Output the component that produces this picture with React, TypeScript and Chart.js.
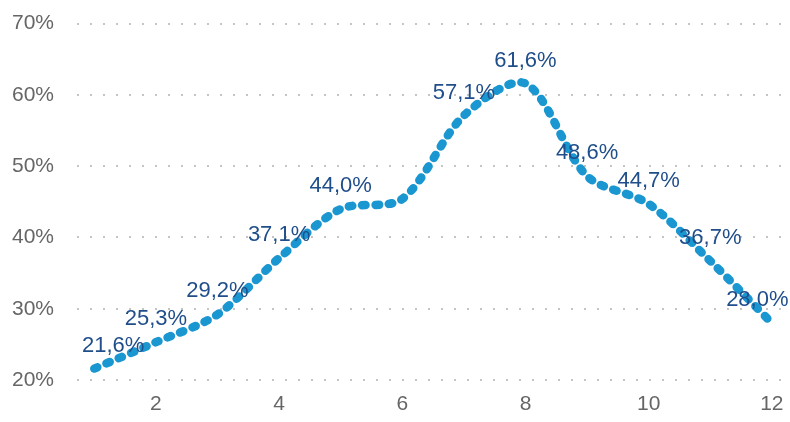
import React, { useEffect, useRef } from "react";
import { Chart, registerables } from "chart.js";

Chart.register(...registerables);

const xValues = [1, 2, 3, 4, 5, 6, 7, 8, 9, 10, 11, 12];
const shares = [21.6, 25.3, 29.2, 37.1, 44.0, 45.4, 57.1, 61.6, 48.6, 44.7, 36.7, 28.0];
const showLabel = [true, true, true, true, true, false, true, true, true, true, true, true];
const xTicks = [2, 4, 6, 8, 10, 12];
const yTicks = [20, 30, 40, 50, 60, 70];

const fmt = (v: number) => v.toFixed(1).replace(".", ",") + "%";

const labelPlugin = {
  id: "pointLabels",
  afterDatasetsDraw(chart: any) {
    const ctx = chart.ctx;
    const meta = chart.getDatasetMeta(0);
    const area = chart.chartArea;
    ctx.save();
    ctx.font = "22px 'Liberation Sans', Arial, sans-serif";
    ctx.fillStyle = "#1f4e8a";
    ctx.textBaseline = "middle";
    ctx.textAlign = "left";
    meta.data.forEach((pt: any, i: number) => {
      if (!showLabel[i]) return;
      const text = fmt(shares[i]);
      const w = ctx.measureText(text).width;
      let x = pt.x - w / 2;
      if (x < area.left + 5) x = area.left + 5;
      if (x + w > area.right) x = area.right - w;
      ctx.fillText(text, x, pt.y - 23);
    });
    ctx.restore();
  },
};

export default function App() {
  const ref = useRef<HTMLCanvasElement>(null);
  useEffect(() => {
    if (!ref.current) return;
    const chart = new Chart(ref.current, {
      type: "line",
      data: {
        datasets: [
          {
            data: xValues.map((x, i) => ({ x, y: shares[i] })),
            borderColor: "#1a96d0",
            borderWidth: 8.5,
            borderDash: [3.5, 9.8],
            borderCapStyle: "round",
            tension: 0.3,
            pointRadius: 0,
            fill: false,
          },
        ],
      },
      options: {
        animation: false,
        responsive: true,
        maintainAspectRatio: false,
        layout: { padding: { left: 0, right: 2, top: 10, bottom: 0 } },
        plugins: { legend: { display: false }, tooltip: { enabled: false } },
        scales: {
          x: {
            type: "linear",
            min: 0.72,
            max: 12.27,
            afterBuildTicks: (axis: any) => {
              axis.ticks = xTicks.map((v) => ({ value: v }));
            },
            grid: { display: false, drawTicks: false },
            border: { display: false },
            ticks: {
              padding: 11.4,
              color: "#666666",
              font: { size: 21, family: "'Liberation Sans', Arial, sans-serif" },
              maxRotation: 0,
              autoSkip: false,
            },
          },
          y: {
            min: 20,
            max: 70,
            afterBuildTicks: (axis: any) => {
              axis.ticks = yTicks.map((v) => ({ value: v }));
            },
            grid: {
              color: "#c4c4c4",
              lineWidth: 2,
              drawTicks: false,
            },
            border: { display: false, dash: [2, 11] },
            ticks: {
              padding: 23,
              color: "#666666",
              font: { size: 21, family: "'Liberation Sans', Arial, sans-serif" },
              callback: (v: any) => v + "%",
            },
          },
        },
      },
      plugins: [labelPlugin],
    } as any);
    return () => chart.destroy();
  }, []);
  return (
    <div style={{ position: "fixed", left: -11, top: -12, width: 806, height: 440 }}>
      <canvas ref={ref} />
    </div>
  );
}
